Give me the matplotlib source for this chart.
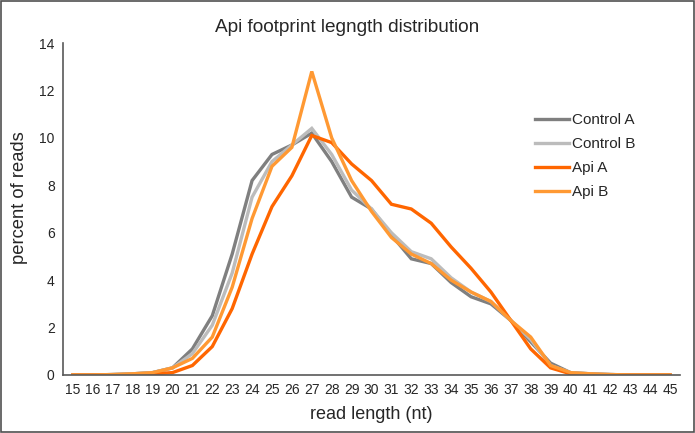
import matplotlib.pyplot as plt
from matplotlib.patches import Rectangle

plt.rcParams['font.family'] = ['Liberation Sans', 'DejaVu Sans']

# read length (nt)
lengths = list(range(15, 46))

control_a = [0, 0, 0.02, 0.05, 0.1, 0.3, 1.1, 2.5, 5.1, 8.2, 9.3, 9.7, 10.2, 9.0, 7.5, 7.0,
             5.9, 4.9, 4.7, 3.9, 3.3, 3.0, 2.3, 1.4, 0.5, 0.1, 0.05, 0.02, 0, 0, 0]
control_b = [0, 0, 0.02, 0.05, 0.1, 0.3, 0.9, 2.1, 4.3, 7.5, 9.0, 9.7, 10.4, 9.3, 7.8, 7.0,
             6.0, 5.2, 4.9, 4.1, 3.5, 3.1, 2.3, 1.5, 0.4, 0.1, 0.05, 0.02, 0, 0, 0]
api_a = [0, 0, 0.01, 0.02, 0.05, 0.1, 0.4, 1.2, 2.8, 5.1, 7.1, 8.4, 10.1, 9.8, 8.9, 8.2,
         7.2, 7.0, 6.4, 5.4, 4.5, 3.5, 2.3, 1.1, 0.3, 0.05, 0.02, 0.01, 0, 0, 0]
api_b = [0, 0, 0.02, 0.05, 0.1, 0.3, 0.7, 1.6, 3.7, 6.6, 8.8, 9.6, 12.8, 10.0, 8.2, 6.9,
         5.8, 5.1, 4.7, 4.0, 3.5, 3.1, 2.3, 1.6, 0.4, 0.1, 0.05, 0.02, 0, 0, 0]

series = [
    ("Control A", control_a, "#7f7f7f"),
    ("Control B", control_b, "#bcbcbc"),
    ("Api A", api_a, "#ff6600"),
    ("Api B", api_b, "#ff9933"),
]

fig = plt.figure(figsize=(6.95, 4.33), dpi=100)
ax = fig.add_axes([63 / 695, 1 - 375 / 433, 617 / 695, 332 / 433])

# chart border, like the Excel chart area
fig.patches.append(Rectangle((0.001, 0.002), 0.997, 0.996, transform=fig.transFigure,
                             fill=False, edgecolor='#505050', linewidth=1.2))

for name, vals, col in series:
    ax.plot(lengths, vals, color=col, linewidth=2.4, label=name, solid_joinstyle='miter')

ax.set_xlim(14.5, 45.5)
ax.set_ylim(0, 14)
ax.set_xticks(lengths)
ax.set_yticks(range(0, 15, 2))
ax.tick_params(axis='both', length=0, labelsize=10, colors='#262626', pad=6)

for s in ['top', 'right']:
    ax.spines[s].set_visible(False)
for s in ['left', 'bottom']:
    ax.spines[s].set_color('#595959')
    ax.spines[s].set_linewidth(1.2)

# title is centred on the whole chart, as in Excel
fig.text(0.5, 1 - 28 / 433, 'Api footprint legngth distribution', fontsize=13.7,
         color='#262626', ha='center', va='center')
ax.set_xlabel('read length (nt)', fontsize=13, color='#262626')
ax.set_ylabel('percent of reads', fontsize=13.2, color='#262626')
ax.xaxis.set_label_coords(0.5, -0.094)
ax.yaxis.set_label_coords(-0.057, 0.533)

ax.legend(loc='upper left', bbox_to_anchor=(0.742, 0.83), frameon=False, fontsize=11,
          handlelength=2.28, handletextpad=0.15, labelspacing=0.65, labelcolor='#262626')

fig.savefig('out.png', dpi=100)
